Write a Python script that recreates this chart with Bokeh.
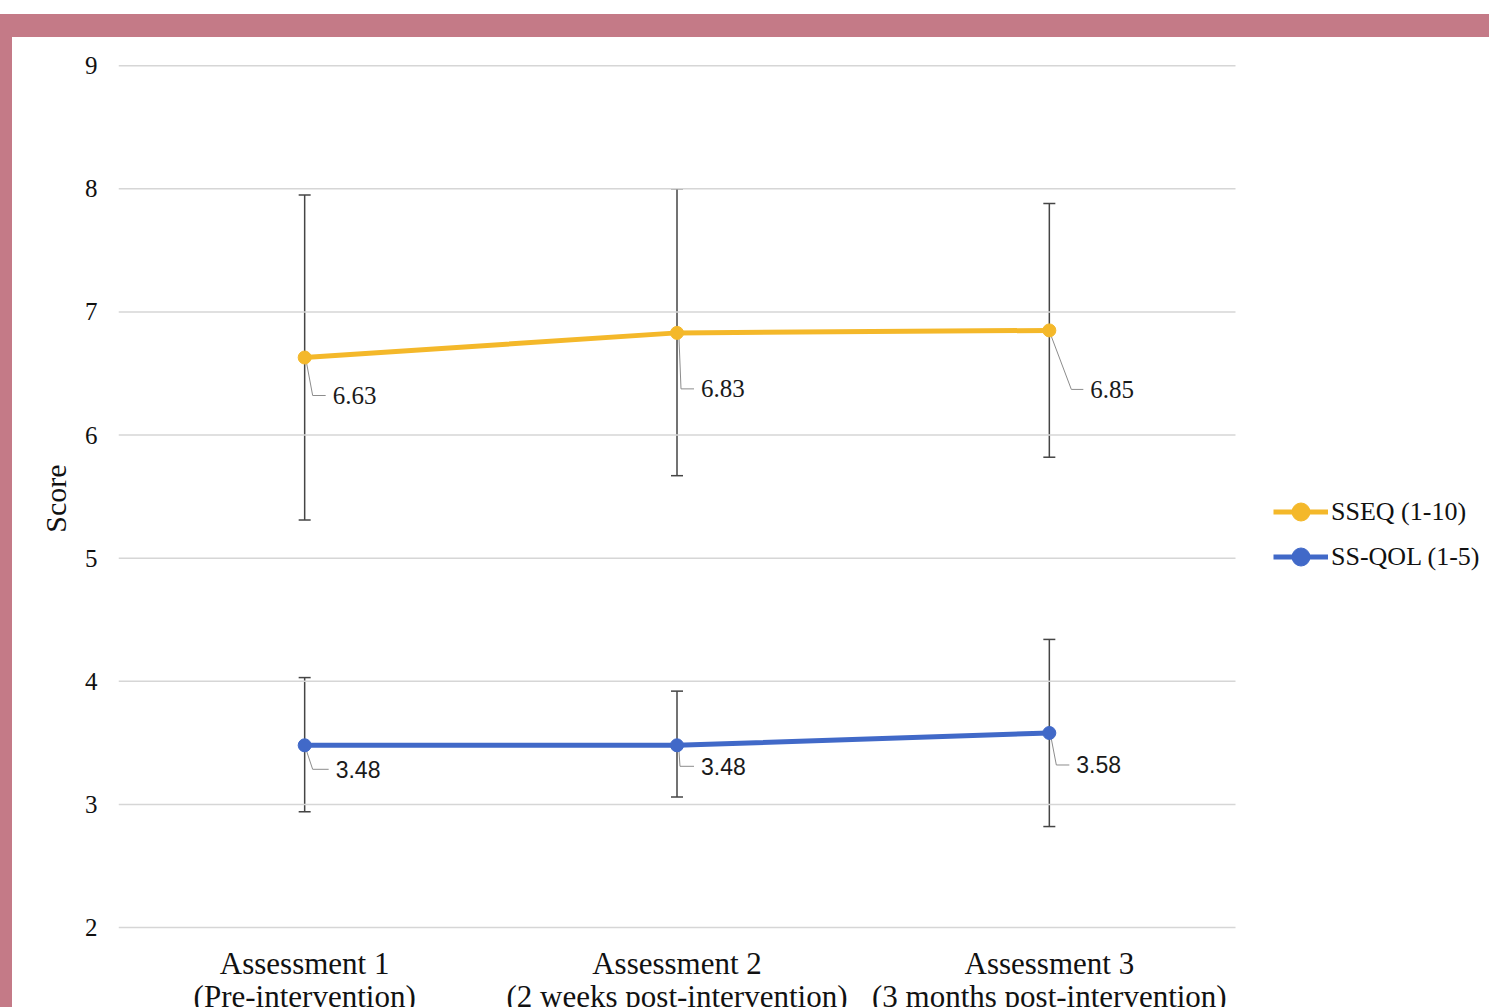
from bokeh.plotting import figure
from bokeh.models import (Range1d, FixedTicker, Whisker, TeeHead, ColumnDataSource,
                          Legend, LegendItem, Div)
from bokeh.layouts import column, row
from bokeh.embed import file_html
from bokeh.resources import INLINE
from bokeh.core.properties import value

# ---------------- data ----------------
categories = ["Assessment 1\n(Pre-intervention)",
              "Assessment 2\n(2 weeks post-intervention)",
              "Assessment 3\n(3 months post-intervention)"]
sseq_mean = [6.63, 6.83, 6.85]
sseq_upper = [7.95, 8.00, 7.88]
sseq_lower = [5.31, 5.67, 5.82]
ssqol_mean = [3.48, 3.48, 3.58]
ssqol_upper = [4.03, 3.92, 4.34]
ssqol_lower = [2.94, 3.06, 2.82]
y_ticks = [2, 3, 4, 5, 6, 7, 8, 9]
series_names = ["SSEQ (1-10)", "SS-QOL (1-5)"]
y_title = "Score"

# ---------------- style / layout ----------------
TOTAL_W, TOTAL_H = 1489, 1007
GAP_TOP, BAR_TOP, BAR_LEFT = 14, 23, 12
FIG_W = TOTAL_W - BAR_LEFT
FIG_H = TOTAL_H - GAP_TOP - BAR_TOP
BL, BT = 106, 27                 # left / top border of the plot frame
PLOT_W, PLOT_H = 1117, 863       # pixel extent of the category band / y 2..9
FONT = "Liberation Serif"
YELLOW = "#F4B82A"
BLUE = "#4169C8"
PINK = "#C47A87"
ncat = len(categories)
xpos = [i + 0.5 for i in range(ncat)]
eps = 0.01

frame_w = FIG_W - BL
frame_h = FIG_H - BT
PXX = PLOT_W / ncat
PXY = PLOT_H / (y_ticks[-1] - y_ticks[0] + eps)
y_end = y_ticks[-1] + eps
y_start = y_end - frame_h / PXY
x_end = frame_w / PXX

p = figure(width=FIG_W, height=FIG_H, output_backend="svg", toolbar_location=None,
           x_range=Range1d(0, x_end), y_range=Range1d(y_start, y_end),
           min_border_left=BL, min_border_top=BT, min_border_right=0, min_border_bottom=0)
p.outline_line_color = None
p.background_fill_color = "white"
p.border_fill_color = "white"
p.xaxis.visible = False
p.xgrid.grid_line_color = None
p.ygrid.grid_line_color = None

# y axis
p.yaxis.ticker = FixedTicker(ticks=y_ticks)
p.yaxis.bounds = (y_ticks[0], y_ticks[-1])
p.yaxis.axis_line_color = None
p.yaxis.major_tick_line_color = None
p.yaxis.minor_tick_line_color = None
p.yaxis.major_label_text_font = FONT
p.yaxis.major_label_text_color = "#111111"
p.yaxis.major_label_text_font_size = "25px"
p.yaxis.major_label_standoff = 15
# leading no-break spaces lift the title to the middle of the 2..9 band
p.yaxis.axis_label = "\u00a0" * 10 + y_title
p.yaxis.axis_label_text_font = FONT
p.yaxis.axis_label_text_font_size = "30px"
p.yaxis.axis_label_text_font_style = "normal"
p.yaxis.axis_label_text_color = "#111111"
p.yaxis.axis_label_standoff = 10

# horizontal gridlines over the category band only
p.segment(x0=[0] * len(y_ticks), x1=[ncat] * len(y_ticks), y0=y_ticks, y1=y_ticks,
          line_color="#D6D6D6", line_width=1.5)

# category labels (two lines each) under the band
line1 = [c.split("\n")[0] for c in categories]
line2 = [c.split("\n")[1] for c in categories]
for txt, off in ((line1, 36), (line2, 69)):
    p.text(x=xpos, y=[y_ticks[0]] * ncat, text=txt, y_offset=off,
           text_align="center", text_baseline="middle",
           text_font=value(FONT), text_font_size="31px", text_color="#111111")

# data labels with leader lines
label_specs = [
    (sseq_mean, [28, 24, 41], [38, 56, 59], [8, 4, 22], FONT, "25px"),
    (ssqol_mean, [31, 24, 27], [24, 21, 32], [8, 3, 7], "Liberation Sans", "23px"),
]
for means, dxs, dys, cdx, fnt, fsz in label_specs:
    xs, ys = [], []
    for x, y, dx, dy, c in zip(xpos, means, dxs, dys, cdx):
        xs.append([x + 2 / PXX, x + c / PXX, x + (dx - 7) / PXX])
        ys.append([y - 6 / PXY, y - dy / PXY, y - dy / PXY])
    p.multi_line(xs, ys, line_color="#8C8C8C", line_width=1)
    p.text(x=xpos, y=means, text=[f"{m:.2f}" for m in means],
           x_offset=dxs, y_offset=dys, text_align="left", text_baseline="middle",
           text_font=value(fnt), text_font_size=fsz, text_color="#1A1A1A")

# lines & markers
items = []
for name, means, col in ((series_names[0], sseq_mean, YELLOW), (series_names[1], ssqol_mean, BLUE)):
    r1 = p.line(xpos, means, line_color=col, line_width=5)
    r2 = p.scatter(xpos, means, size=13, fill_color=col, line_color=col)
    items.append(LegendItem(label=name, renderers=[r1, r2]))

# error bars (drawn above the lines)
for means, up, lo in ((sseq_mean, sseq_upper, sseq_lower), (ssqol_mean, ssqol_upper, ssqol_lower)):
    src = ColumnDataSource(dict(x=xpos, upper=up, lower=lo))
    w = Whisker(base="x", upper="upper", lower="lower", source=src,
                line_color="#454545", line_width=1.5,
                upper_head=TeeHead(size=12, line_color="#454545", line_width=1.5),
                lower_head=TeeHead(size=12, line_color="#454545", line_width=1.5))
    p.add_layout(w)

legend = Legend(items=items, location=(1155, 428), orientation="vertical",
                glyph_width=55, glyph_height=45, label_height=45, spacing=0,
                label_standoff=3, padding=0, margin=0,
                label_text_font=FONT, label_text_font_size="26px",
                label_text_color="#111111",
                border_line_color=None, background_fill_alpha=0)
p.add_layout(legend, "center")

gap = Div(width=TOTAL_W, height=GAP_TOP, margin=0)
topbar = Div(width=TOTAL_W, height=BAR_TOP, margin=0, styles={"background-color": PINK})
leftbar = Div(width=BAR_LEFT, height=FIG_H, margin=0, styles={"background-color": PINK})
layout = column(gap, topbar, row(leftbar, p, spacing=0), spacing=0)

open("out.html", "w").write(file_html(layout, INLINE))
